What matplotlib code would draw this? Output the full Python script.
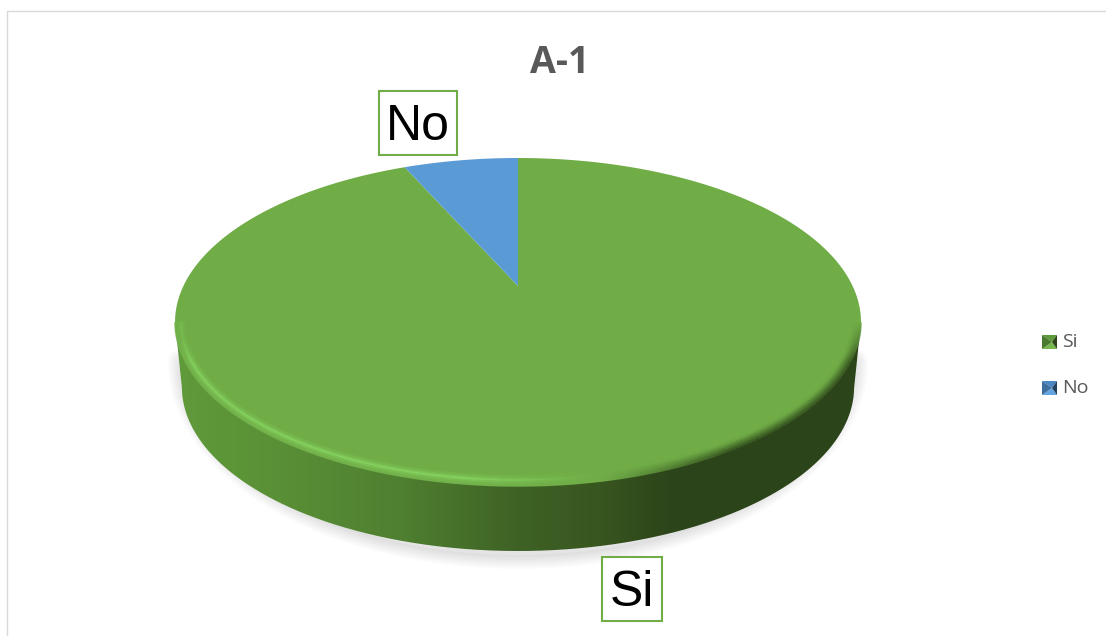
#!/usr/bin/python3

import numpy as np
import matplotlib
matplotlib.use("Agg")
import matplotlib.pyplot as plt
from matplotlib.colors import LinearSegmentedColormap, to_rgb
from matplotlib.collections import LineCollection
from matplotlib.patches import PathPatch, Rectangle
from matplotlib.path import Path

labels = ["Si", "No"]
values = [14, 1]
colors = ["#70AD47", "#5B9BD5"]
title = "A-1"

GRAY = "#595959"
CX, APEX_Y = 518, 286
DEPTH = 65


def project(theta):
    # tilted disc: the pie centre sits above the middle of the ellipse
    u, v = np.sin(theta), np.cos(theta)
    k = 0.2195
    return CX + 334.6 * u / (1 + k * v), APEX_Y - 156.1 * v / (1 + k * v)


def wedge_poly(start, end):
    t = np.linspace(start, end, 400)
    x, y = project(t)
    return np.r_[CX, x], np.r_[APEX_Y, y]


def blend(c1, c2, s):
    return np.asarray(to_rgb(c1)) * (1 - s) + np.asarray(to_rgb(c2)) * s


fig = plt.figure(figsize=(11.06, 6.36), dpi=100)
ax = fig.add_axes([0, 0, 1, 1])
ax.set_xlim(0, 1106)
ax.set_ylim(636, 0)
ax.axis("off")

# frame of the chart area
ax.plot([7, 7, 1106], [636, 11, 11], color="#d9d9d9", lw=1)

# rim of the disc, lower part only, left to right
all_t = np.linspace(0, 2 * np.pi, 1441)
rx, ry = project(all_t)
low = ry >= 322
order = np.argsort(rx[low])
lx, ly = rx[low][order], ry[low][order]
bx = CX + (lx - CX) * 0.98
by = ly + DEPTH
side_x = np.r_[lx, bx[::-1]]
side_y = np.r_[ly, by[::-1]]

# soft shadow under the side, only the lower edge throws it
shadow_y = 362 + (by - 387) * 1.177
for w in np.arange(20, 0, -2.5):
    ax.fill(bx, shadow_y, fc="none", alpha=0.014, lw=w, ec="#000000",
            joinstyle="round", zorder=1)
ax.fill(bx, shadow_y, color="#e4e4e4", lw=0, zorder=1)

# side wall, shaded from left to right
side_cmap = LinearSegmentedColormap.from_list("side", [
    (0.00, "#5f9a3b"), (0.12, "#5b9237"), (0.33, "#4f7f30"), (0.50, "#3e6225"),
    (0.62, "#38561f"), (0.72, "#2d451a"), (1.00, "#2c4419")])
im = ax.imshow(np.linspace(0, 1, 400).reshape(1, -1), cmap=side_cmap, aspect="auto",
               extent=[lx[0], lx[-1], 560, 300], zorder=2)
side_patch = PathPatch(Path(np.c_[side_x, side_y]), fc="none", ec="none", zorder=2)
ax.add_patch(side_patch)
im.set_clip_path(side_patch)
ax.set_xlim(0, 1106)
ax.set_ylim(636, 0)

# top of the pie, clockwise from twelve o'clock
angles = 2 * np.pi * np.cumsum([0] + values) / sum(values)
for i in range(len(values)):
    ax.fill(*wedge_poly(angles[i], angles[i + 1]), color=colors[i], lw=0, zorder=3)

# bevel along the lower rim: light on the left, dark on the right
ex = (lx - CX) / 343
ey = (ly - 322) / 164
for d, weight in [(0.5, 0.1), (2, 0.2), (3.5, 0.35), (5, 0.6), (6.5, 1.0), (8, 0.6), (9.5, 0.25)]:
    px = CX + ex * (343 - d)
    py = 322 + ey * (164 - d)
    pts = np.c_[px, py]
    segs = np.stack([pts[:-1], pts[1:]], axis=1)
    seg_colors = []
    for x0, e0 in zip(px[:-1], ey[:-1]):
        ramp = np.clip(e0 / 0.25, 0, 1)
        light = np.clip((600 - x0) / 130, 0, 1) * weight * max(ramp, 0.4)
        dark = np.clip((x0 - 600) / 130, 0, 1) * (1 - d / 10) * ramp
        rgb = blend(colors[0], "#86d460", light)
        rgb = rgb * (1 - dark) + np.asarray(to_rgb("#2f4a1b")) * dark
        seg_colors.append(rgb)
    ax.add_collection(LineCollection(segs, colors=seg_colors, linewidths=1.8, zorder=4))

# title
ax.text(560, 63, title, ha="center", va="center", fontsize=27, fontweight="bold",
        family="Open Sans", color=GRAY, zorder=6)

# data labels in boxes
label_boxes = {"No": (379, 91, 78, 64), "Si": (602, 557, 60, 64)}
for name, (x0, y0, w, h) in label_boxes.items():
    ax.add_patch(Rectangle((x0, y0), w, h, fc="white", ec=colors[0], lw=1.5, zorder=6))
    ax.text(x0 + w / 2, y0 + h / 2 + 4, name, ha="center", va="center", fontsize=36,
            family="Liberation Sans", color="black", zorder=7)

# legend with the bevelled swatches
legend_y = [342, 388]
shades = [("#5c9a3a", "#76b84e", "#4a7a2e", "#2d4519"),
          ("#4a86bf", "#62a5e0", "#3d6f9e", "#22415f")]
for name, yc, sh in zip(labels, legend_y, shades):
    x0, x1 = 1042, 1057
    y0, y1 = yc - 7, yc + 7
    mx, my = x1 - 5, yc
    ax.fill([x0, x1, mx], [y0, y0, my], color=sh[0], lw=0, zorder=6)
    ax.fill([x0, x1, mx], [y1, y1, my], color=sh[1], lw=0, zorder=6)
    ax.fill([x0, x0, mx], [y0, y1, my], color=sh[2], lw=0, zorder=6)
    ax.fill([x1, x1, mx], [y0, y1, my], color=sh[3], lw=0, zorder=6)
    ax.text(1062, yc, name, ha="left", va="center", fontsize=14,
            family="Open Sans", color=GRAY, zorder=6)

fig.savefig("out.png", dpi=100, facecolor="white")
